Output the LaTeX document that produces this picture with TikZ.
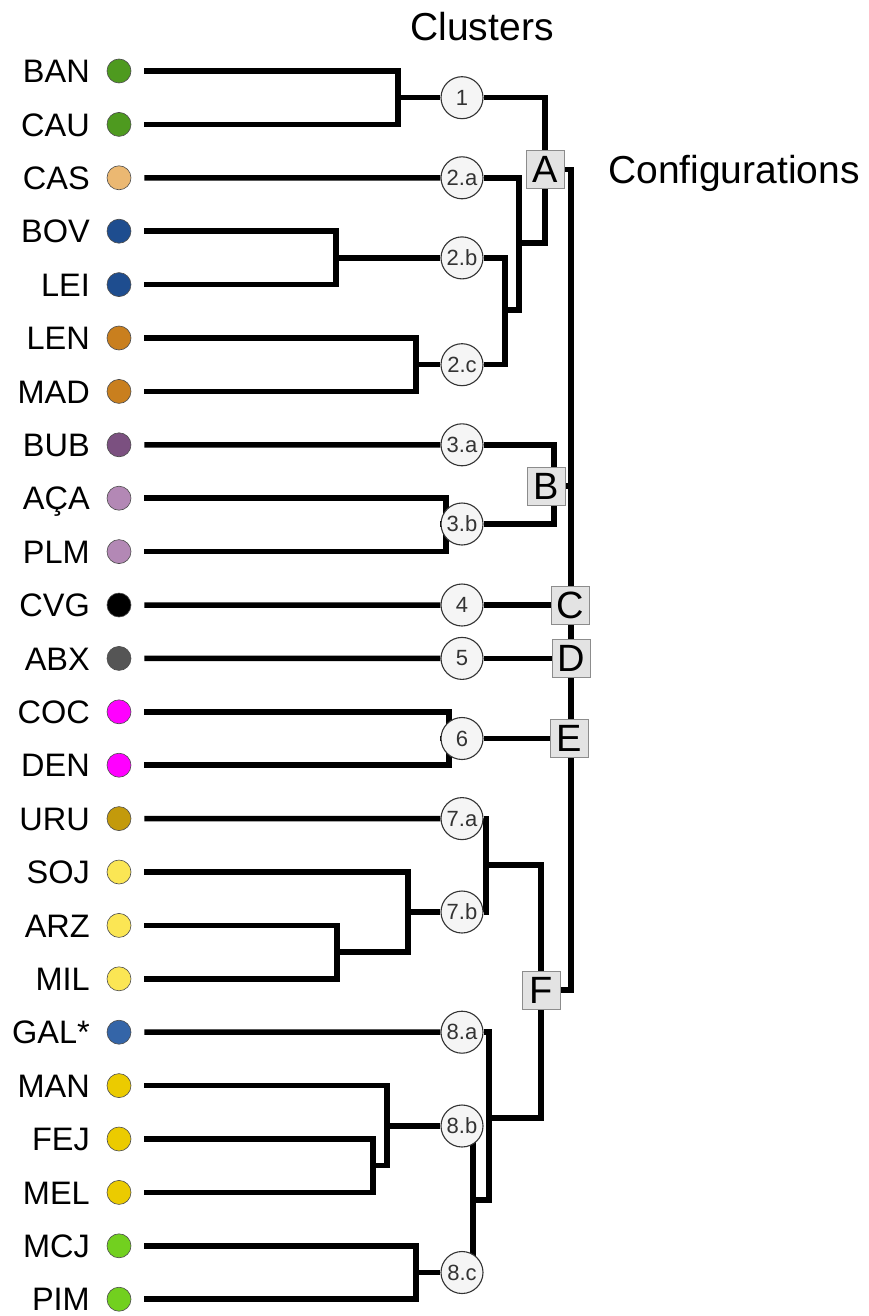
\documentclass[tikz,border=0pt]{standalone}
\usepackage{fontspec}
\setmainfont{Liberation Sans}
\usepackage{tikz}
\usetikzlibrary{positioning}

\definecolor{grnA}{HTML}{4E9A1F}
\definecolor{tanA}{HTML}{EBB872}
\definecolor{bluA}{HTML}{1E4D8F}
\definecolor{ornA}{HTML}{C97F1E}
\definecolor{purA}{HTML}{7B5080}
\definecolor{purB}{HTML}{B388B5}
\definecolor{gryA}{HTML}{555555}
\definecolor{magA}{HTML}{FF00FF}
\definecolor{gldA}{HTML}{C39A0B}
\definecolor{ylwA}{HTML}{FBE654}
\definecolor{bluB}{HTML}{3465A8}
\definecolor{ylwB}{HTML}{EBCB00}
\definecolor{grnB}{HTML}{72D01F}

\pgfdeclarelayer{back}
\pgfsetlayers{back,main}

\begin{document}
\begin{tikzpicture}[x=1pt,y=-1pt,
  leaf/.style={font=\fontsize{32.5}{39}\selectfont,inner sep=0pt},
  dot/.style={circle,draw=black!70,line width=0.6pt,minimum size=24pt,inner sep=0pt},
  clu/.style={circle,draw=black!80,fill=black!4,line width=1.1pt,minimum size=42pt,
    inner sep=0pt,text=black!80,font=\fontsize{22}{24}\selectfont},
  cfg/.style={draw=black!45,fill=black!11,line width=1pt,minimum size=38pt,inner sep=0pt,
    font=\fontsize{38}{40}\selectfont},
  tree/.style={line width=5.5pt},
  twig/.style={tree,shorten <=13pt,shorten >=13pt},
  head/.style={font=\fontsize{39}{44}\selectfont,inner sep=0pt},
]
  % leaves
  \foreach \nm/\lab/\col [count=\i from 0] in {ban/BAN/grnA,cau/CAU/grnA,cas/CAS/tanA,
      bov/BOV/bluA,lei/LEI/bluA,len/LEN/ornA,mad/MAD/ornA,bub/BUB/purA,aca/AÇA/purB,
      plm/PLM/purB,cvg/CVG/black,abx/ABX/gryA,coc/COC/magA,den/DEN/magA,uru/URU/gldA,
      soj/SOJ/ylwA,arz/ARZ/ylwA,mil/MIL/ylwA,gal/GAL*/bluB,man/MAN/ylwB,fej/FEJ/ylwB,
      mel/MEL/ylwB,mcj/MCJ/grnB,pim/PIM/grnB}{
    \node[leaf,anchor=base east] (l\nm) at (90,82.7+53.4*\i) {\lab};
    \node[dot,fill=\col] (d\nm) at (119,71+53.4*\i) {};
  }

  \node[head,anchor=base] (clusters) at (482,41) {Clusters};
  \node[head,anchor=base west] (configs) at (608,184) {Configurations};

  % clusters
  \node[clu] (c1) at (462,97.7) {1};
  \node[clu] (c2a) at (462,177.8) {2.a};
  \node[clu] (c2b) at (462,257.9) {2.b};
  \node[clu] (c2c) at (462,364.7) {2.c};
  \node[clu] (c3a) at (462,444.8) {3.a};
  \node[clu] (c3b) at (462,524) {3.b};
  \node[clu] (c4) at (462,605) {4};
  \node[clu] (c5) at (462,658.4) {5};
  \node[clu] (c6) at (462,738.5) {6};
  \node[clu] (c7a) at (462,818.6) {7.a};
  \node[clu] (c7b) at (462,912) {7.b};
  \node[clu] (c8a) at (462,1032.2) {8.a};
  \node[clu] (c8b) at (462,1126) {8.b};
  \node[clu] (c8c) at (462,1272.5) {8.c};

  % configurations
  \node[cfg] (A) at (545,169.5) {A};
  \node[cfg] (B) at (546,486) {B};
  \node[cfg] (C) at (570,605) {C};
  \node[cfg] (D) at (571,658.4) {D};
  \node[cfg] (E) at (569,738.5) {E};
  \node[cfg] (F) at (541,990) {F};

  \coordinate (j1) at (398,97.7);
  \coordinate (j2b) at (336,257.9);
  \coordinate (j2c) at (416,364.7);
  \coordinate (j3b) at (446,524);
  \coordinate (j6) at (449,738.5);
  \coordinate (jarz) at (337,952.1);
  \coordinate (j7s) at (408,912);
  \coordinate (jfej) at (373,1165.7);
  \coordinate (j8m) at (387,1126);
  \coordinate (j8c) at (416,1272.5);
  \coordinate (jA) at (519,243);
  \coordinate (j2) at (519,310);
  \coordinate (j2bc) at (505,310);
  \coordinate (jB) at (554,486);
  \coordinate (j7) at (486,865);
  \coordinate (j8) at (489,1118);
  \coordinate (j8low) at (489,1200);
  \coordinate (j8bc) at (473,1200);
  \coordinate (spine) at (571,0);

  \begin{pgfonlayer}{back}
    \path[use as bounding box,fill=white] (0,0) rectangle (869,1316);
    % left side
    \draw[twig] (dban) -| (j1) |- (dcau);
    \draw[tree] (j1) -- (c1);
    \draw[tree,shorten <=13pt] (dcas) -- (c2a);
    \draw[twig] (dbov) -| (j2b) |- (dlei);
    \draw[tree] (j2b) -- (c2b);
    \draw[twig] (dlen) -| (j2c) |- (dmad);
    \draw[tree] (j2c) -- (c2c);
    \draw[tree,shorten <=13pt] (dbub) -- (c3a);
    \draw[twig] (daca) -| (j3b) |- (dplm);
    \draw[tree] (j3b) -- (c3b);
    \draw[tree,shorten <=13pt] (dcvg) -- (c4);
    \draw[tree,shorten <=13pt] (dabx) -- (c5);
    \draw[twig] (dcoc) -| (j6) |- (dden);
    \draw[tree] (j6) -- (c6);
    \draw[tree,shorten <=13pt] (duru) -- (c7a);
    \draw[twig] (darz) -| (jarz) |- (dmil);
    \draw[tree,shorten <=13pt] (dsoj) -| (j7s) |- (jarz);
    \draw[tree] (j7s) -- (c7b);
    \draw[tree,shorten <=13pt] (dgal) -- (c8a);
    \draw[twig] (dfej) -| (jfej) |- (dmel);
    \draw[tree,shorten <=13pt] (dman) -| (j8m) |- (jfej);
    \draw[tree] (j8m) -- (c8b);
    \draw[twig] (dmcj) -| (j8c) |- (dpim);
    \draw[tree] (j8c) -- (c8c);
    % right side
    \draw[tree] (c1) -| (A);
    \draw[tree] (A) |- (jA);
    \draw[tree] (c2a) -| (j2) -- (j2bc);
    \draw[tree] (c2b) -| (j2bc) |- (c2c);
    \draw[tree] (c3a) -| (jB) |- (c3b);
    \draw[tree] (A) -- (A -| spine) -- (F -| spine) -- (F);
    \draw[tree] (B) -- (B -| spine);
    \draw[tree] (c4) -- (C);
    \draw[tree] (c5) -- (D);
    \draw[tree] (c6) -- (E);
    \draw[tree] (c7a) -| (j7) |- (c7b);
    \draw[tree] (j7) -| (F);
    \draw[tree] (c8a) -| (j8low) -- (j8bc);
    \draw[tree] (c8b.center -| j8bc) -- (c8c.center -| j8bc);
    \draw[tree] (j8) -| (F);
  \end{pgfonlayer}
\end{tikzpicture}
\end{document}
